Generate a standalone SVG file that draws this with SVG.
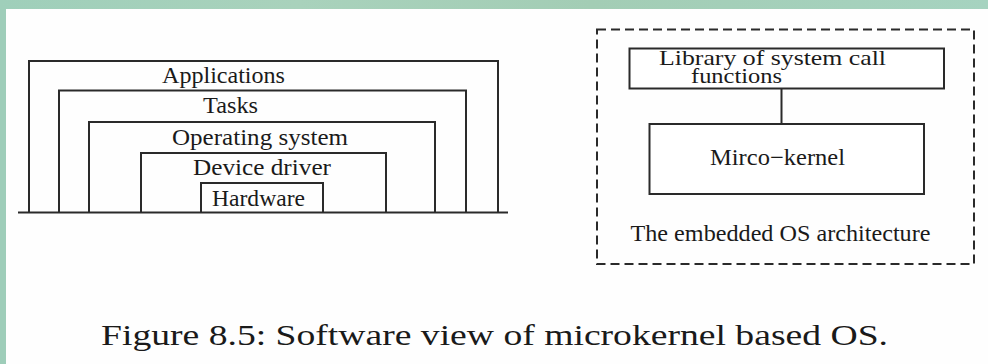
<svg xmlns="http://www.w3.org/2000/svg" width="988" height="364" viewBox="0 0 988 364">
<style>
.ln{fill:none;stroke:#2a2a2a;stroke-width:2}
.bx{fill:#fff;stroke:#2a2a2a;stroke-width:2}
.dash{fill:none;stroke:#2a2a2a;stroke-width:2;stroke-dasharray:9 5}
.t{font-size:23px;text-anchor:middle;fill:#1a1a1a}
.s{font-size:21px;text-anchor:middle;fill:#1a1a1a}
.cap{font-size:30px;fill:#1a1a1a}
</style>
<defs>
<linearGradient id="band" x1="0" y1="0" x2="1" y2="0">
<stop offset="0" stop-color="#9fcfba"/>
<stop offset="0.3" stop-color="#a9d2bc"/>
<stop offset="0.6" stop-color="#a3cdb5"/>
<stop offset="1" stop-color="#a6d3c0"/>
</linearGradient>
</defs>
<rect x="0" y="0" width="988" height="364" fill="#9ecdb9"/>
<rect x="0" y="0" width="988" height="10" fill="url(#band)"/>
<rect x="6" y="9" width="982" height="355" fill="#fefefe"/>

<g font-family="Liberation Serif, Times New Roman, serif">
<g id="layers">
<g id="applications"><polyline class="ln" points="29,212 29,61 498,61 498,212"/><text class="t" x="223.5" y="83" textLength="123" lengthAdjust="spacingAndGlyphs">Applications</text></g>
<g id="tasks"><polyline class="ln" points="59,212 59,90.5 466,90.5 466,212"/><text class="t" x="230.5" y="113" textLength="55" lengthAdjust="spacingAndGlyphs">Tasks</text></g>
<g id="os"><polyline class="ln" points="89,212 89,122 435,122 435,212"/><text class="t" x="260" y="145" textLength="176" lengthAdjust="spacingAndGlyphs">Operating  system</text></g>
<g id="driver"><polyline class="ln" points="141,212 141,153 386,153 386,212"/><text class="t" x="262" y="175" textLength="138" lengthAdjust="spacingAndGlyphs">Device  driver</text></g>
<g id="hardware"><polyline class="ln" points="201,212 201,183 323,183 323,212"/><text class="t" x="258.5" y="205.5" textLength="93" lengthAdjust="spacingAndGlyphs">Hardware</text></g>
</g>

<g id="connectors">
<line class="ln" x1="18" y1="212.5" x2="508" y2="212.5"/>
<line class="ln" x1="781.5" y1="88.5" x2="781.5" y2="124"/>
</g>

<g id="embedded-os">
<rect class="dash" x="597" y="29.5" width="377" height="234.5"/>
<text class="t" x="780.5" y="240.5" textLength="300" lengthAdjust="spacingAndGlyphs">The embedded OS architecture</text>
</g>
<g id="library">
<rect class="bx" x="629.5" y="48.5" width="314.5" height="40"/>
<text class="s" x="772.5" y="64.5" textLength="227" lengthAdjust="spacingAndGlyphs">Library  of  system call</text>
<text class="s" x="736.5" y="83" textLength="91" lengthAdjust="spacingAndGlyphs">functions</text>
</g>
<g id="microkernel">
<rect class="bx" x="649.5" y="124" width="274.5" height="70"/>
<text class="t" x="777.5" y="165" textLength="135" lengthAdjust="spacingAndGlyphs">Mirco−kernel</text>
</g>

<text class="cap" x="101" y="345" textLength="787" lengthAdjust="spacingAndGlyphs">Figure 8.5: Software view of microkernel based OS.</text>
</g>
</svg>
